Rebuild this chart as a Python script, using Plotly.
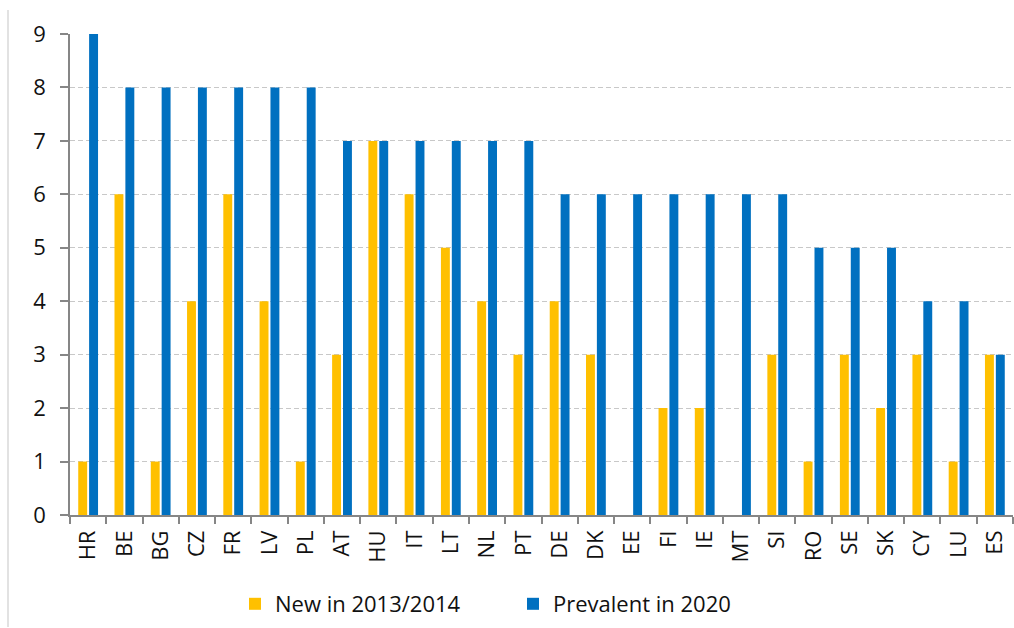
import plotly.graph_objects as go

countries = ["HR", "BE", "BG", "CZ", "FR", "LV", "PL", "AT", "HU", "IT", "LT", "NL", "PT",
             "DE", "DK", "EE", "FI", "IE", "MT", "SI", "RO", "SE", "SK", "CY", "LU", "ES"]
new_2013_2014 = [1, 6, 1, 4, 6, 4, 1, 3, 7, 6, 5, 4, 3, 4, 3, 0, 2, 2, 0, 3, 1, 3, 2, 3, 1, 3]
prevalent_2020 = [9, 8, 8, 8, 8, 8, 8, 7, 7, 7, 7, 7, 7, 6, 6, 6, 6, 6, 6, 6, 5, 5, 5, 4, 4, 3]
y_ticks = [0, 1, 2, 3, 4, 5, 6, 7, 8, 9]

W, H = 1014, 628
L, R, T, B = 70, 1, 34, 113
FONT = "Open Sans"
FSIZE = 22
TEXT = "#111111"
AXIS = "#868686"

fig = go.Figure()
fig.add_trace(go.Bar(name="New in 2013/2014", x=countries, y=new_2013_2014,
                     marker=dict(color="#FFC000", line=dict(width=0))))
fig.add_trace(go.Bar(name="Prevalent in 2020", x=countries, y=prevalent_2020,
                     marker=dict(color="#0070C0", line=dict(width=0))))

plot_w = W - L - R
plot_h = H - T - B


def px_x(px):
    return (px - L) / plot_w


def px_y(py):
    return (H - B - py) / plot_h


# thin outer frame line on the left side of the chart area
fig.add_shape(type="line", xref="paper", yref="paper",
              x0=px_x(8), x1=px_x(8), y0=px_y(627), y1=px_y(10),
              line=dict(color="#d9d9d9", width=1.5), layer="below")

fig.update_layout(
    width=W, height=H,
    margin=dict(l=L, r=R, t=T, b=B, pad=0),
    paper_bgcolor="white", plot_bgcolor="white",
    barmode="group", bargap=0.4, bargroupgap=0.18,
    font=dict(family=FONT, size=FSIZE, color=TEXT),
    showlegend=True,
    legend=dict(orientation="h", x=px_x(235), xanchor="left",
                y=px_y(604), yanchor="middle",
                font=dict(family=FONT, size=FSIZE, color=TEXT),
                entrywidth=233, entrywidthmode="pixels",
                bgcolor="rgba(0,0,0,0)", borderwidth=0),
    xaxis=dict(type="category", tickangle=-90, tickson="boundaries",
               ticks="outside", ticklen=7, tickcolor=AXIS, tickwidth=1.5,
               showline=True, linecolor=AXIS, linewidth=1.5,
               showgrid=False, tickfont=dict(family=FONT, size=FSIZE),
               ticklabelstandoff=5, fixedrange=True),
    yaxis=dict(range=[0, 9], tickvals=y_ticks, ticks="outside", ticklen=8,
               tickcolor=AXIS, tickwidth=1.5, showline=True, linecolor=AXIS,
               linewidth=1.5, showgrid=True, gridcolor="#c8c8c8", gridwidth=1,
               griddash="5px,3px", zeroline=False,
               tickfont=dict(family=FONT, size=FSIZE),
               ticklabelstandoff=10, fixedrange=True),
)

fig.write_html("out.html")
